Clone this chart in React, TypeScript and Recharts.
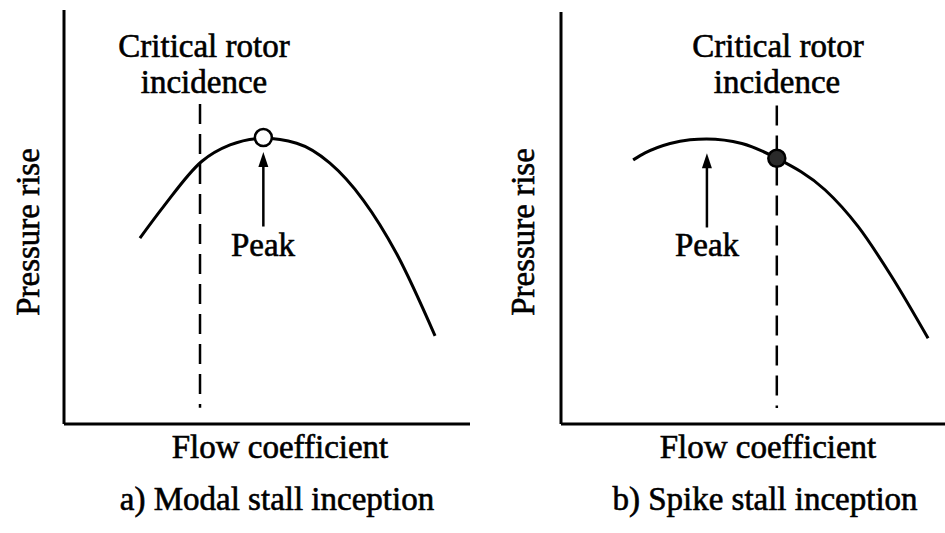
import React from 'react';
import { LineChart, Line, XAxis, YAxis, ReferenceLine, ReferenceDot } from 'recharts';

// panel a) modal stall inception - curve
const flowA = [18.7, 24.5, 33.9, 40.9, 49.1, 57.3, 65.5, 73.7, 81.9, 91.4];
const pressureA = [44.9, 52.5, 63.4, 67.4, 69.0, 67.8, 63.0, 54.1, 41.2, 21.3];
const criticalA = 33.5;
const peakA = { x: 49.1, y: 69.2 };

// panel b) spike stall inception
const flowB = [18.8, 21.9, 28.4, 33.6, 37.9, 47.1, 56.2, 68.8, 77.4, 86.1, 95.6];
const pressureB = [64.1, 65.8, 68.1, 69.0, 69.2, 68.1, 64.5, 56.8, 47.9, 35.8, 20.8];
const criticalB = 56.2;
const peakB = { x: 38.0, y: 69.2 };
const stallPointB = { x: 56.2, y: 64.5 };

const dashTop = 77.3;
const dashBottom = 3.9;
const arrowBottom = 47.7;

const FONT = "'Liberation Serif', 'Times New Roman', Tinos, serif";

const toRows = (xs: number[], ys: number[]) => xs.map((x, i) => ({ x, y: ys[i] }));

const ArrowHead = (props: any) => {
	const { cx, cy } = props;
	return <path d={`M${cx},${cy} L${cx - 5},${cy + 15} L${cx + 5},${cy + 15} Z`} fill="#000" />;
};

interface PanelProps {
	data: { x: number; y: number }[];
	critical: number;
	peak: { x: number; y: number };
	marker: { x: number; y: number };
	filled: boolean;
	left: number;
	top: number;
}

function Panel({ data, critical, peak, marker, filled, left, top }: PanelProps) {
	return (
		<LineChart width={470} height={533} data={data} margin={{ top, right: 0, left: left - 1, bottom: 108 }}>
			<XAxis
				type="number"
				dataKey="x"
				domain={[0, 100]}
				height={1}
				tick={false}
				tickLine={false}
				axisLine={{ stroke: '#000', strokeWidth: 3 }}
			/>
			<YAxis
				type="number"
				domain={[0, 100]}
				width={1}
				tick={false}
				tickLine={false}
				axisLine={{ stroke: '#000', strokeWidth: 3 }}
			/>
			<ReferenceLine
				segment={[{ x: critical, y: dashTop }, { x: critical, y: dashBottom }]}
				stroke="#000"
				strokeWidth={2.5}
				strokeDasharray="20 10"
			/>
			<Line type="monotone" dataKey="y" stroke="#000" strokeWidth={3} dot={false} isAnimationActive={false} />
			<ReferenceLine
				segment={[{ x: peak.x, y: arrowBottom }, { x: peak.x, y: peak.y - 6 }]}
				stroke="#000"
				strokeWidth={2.5}
			/>
			<ReferenceDot x={peak.x} y={peak.y - 3.5} shape={ArrowHead} />
			<ReferenceDot
				x={marker.x}
				y={marker.y}
				r={8.5}
				fill={filled ? '#2a2a2a' : '#fff'}
				stroke="#000"
				strokeWidth={2.5}
			/>
		</LineChart>
	);
}

const txtStyle: React.CSSProperties = { fontFamily: FONT, fontSize: 33 };
const txt = { fill: '#000', stroke: '#000', strokeWidth: 0.6, textAnchor: 'middle' as const, style: txtStyle };

export default function App() {
	return (
		<div style={{ position: 'absolute', left: 0, top: 0, width: 945, height: 533, background: '#fff' }}>
			<div style={{ position: 'absolute', left: 0, top: 0 }}>
				<Panel
					data={toRows(flowA, pressureA)}
					critical={criticalA}
					peak={peakA}
					marker={peakA}
					filled={false}
					left={64}
					top={10}
				/>
			</div>
			<div style={{ position: 'absolute', left: 475, top: 0 }}>
				<Panel
					data={toRows(flowB, pressureB)}
					critical={criticalB}
					peak={peakB}
					marker={stallPointB}
					filled={true}
					left={86}
					top={12}
				/>
			</div>
			<svg width={945} height={533} style={{ position: 'absolute', left: 0, top: 0, pointerEvents: 'none' }}>
				<text x={204} y={57} {...txt}>Critical rotor</text>
				<text x={204} y={93} {...txt}>incidence</text>
				<text x={263} y={256} {...txt}>Peak</text>
				<text x={280} y={458} {...txt}>Flow coefficient</text>
				<text x={277} y={510} {...txt}>a) Modal stall inception</text>
				<text x={0} y={0} {...txt} transform="translate(39,232) rotate(-90)">Pressure rise</text>

				<text x={778} y={57} {...txt}>Critical rotor</text>
				<text x={777} y={93} {...txt}>incidence</text>
				<text x={707} y={256} {...txt}>Peak</text>
				<text x={768} y={458} {...txt}>Flow coefficient</text>
				<text x={765} y={510} {...txt}>b) Spike stall inception</text>
				<text x={0} y={0} {...txt} transform="translate(534,232) rotate(-90)">Pressure rise</text>
			</svg>
		</div>
	);
}
